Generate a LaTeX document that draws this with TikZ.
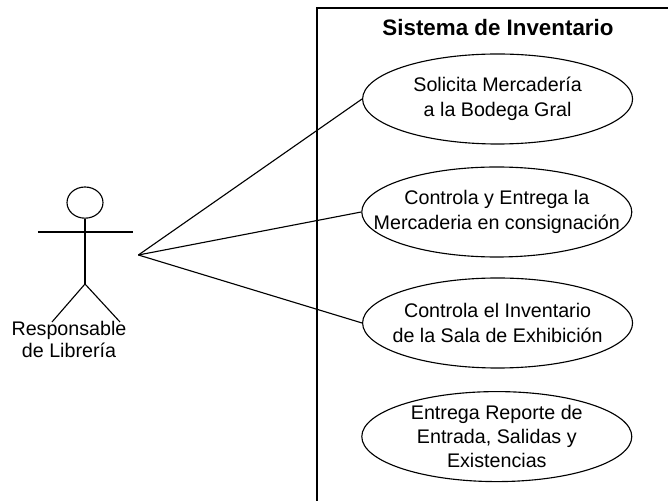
\documentclass[tikz,border=0pt]{standalone}
\usepackage{fontspec}
\setmainfont{Liberation Sans}
\usetikzlibrary{shapes.geometric}

\begin{document}
\begin{tikzpicture}[line width=0.8pt]
	\useasboundingbox (0,0) rectangle (16.7,12.525);
	% Define the use case style
	\tikzstyle{usecase} = [draw, ellipse, inner sep=-2cm, minimum width=6.75cm, minimum height=2.25cm, align=center, font=\fontsize{14}{18}\selectfont];
	\tikzstyle{label} = [align=center, font=\fontsize{14}{15.5}\selectfont];
	
	% System frame
	\coordinate (framebot) at (7.925,0);
	\coordinate (framecor) at (7.925,12.325);
	\coordinate (frameend) at (16.7,12.325);
	\draw (framebot) -- (framecor) -- (frameend);
	\node[font=\fontsize{15.9}{18}\selectfont\bfseries] (title) at (12.45,11.825) {Sistema de Inventario};
	
	% Use cases
	\node[usecase] (solicita) at (12.44,10.05) {Solicita Mercadería\\a la Bodega Gral};
	\node[usecase] (controla) at (12.42,7.225) {Controla y Entrega la\\Mercaderia en consignación};
	\node[usecase] (inventario) at (12.44,4.45) {Controla el Inventario\\de la Sala de Exhibición};
	\node[usecase, font=\fontsize{14}{17}\selectfont] (reporte) at (12.42,1.61) {Entrega Reporte de\\Entrada, Salidas y\\Existencias};
	
	% Actor
	\node[draw, ellipse, minimum width=0.9cm, minimum height=0.78cm, inner sep=0pt] (head) at (2.125,7.46) {};
	\coordinate (hip) at (2.125,5.425);
	\coordinate (handl) at (0.95,6.725);
	\coordinate (handr) at (3.325,6.725);
	\coordinate (footl) at (1.3,4.475);
	\coordinate (footr) at (3.0,4.475);
	\coordinate (hub) at (3.46,6.15);
	\draw (head.south) -- (hip);
	\draw (handl) -- (handr);
	\draw (footl) -- (hip) -- (footr);
	\node[label] (actor) at (1.725,4.03) {Responsable\\de Librería};
	
	% Draw the connectors from the actor
	\foreach \i in {solicita, controla, inventario}
	\draw (hub) -- (\i.west);
\end{tikzpicture}
\end{document}
